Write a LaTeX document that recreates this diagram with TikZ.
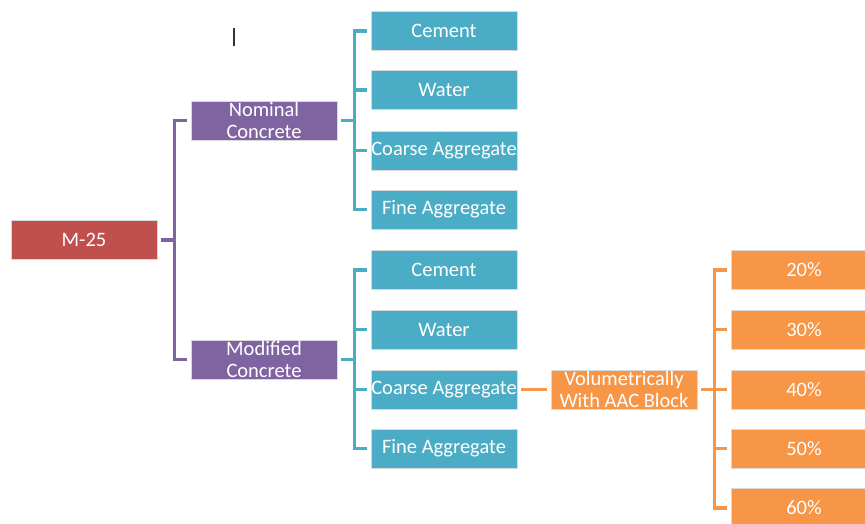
\documentclass[tikz,border=0pt]{standalone}
\usepackage{fontspec}
\setmainfont{Carlito}
\definecolor{cred}{HTML}{C0504D}
\definecolor{cpur}{HTML}{8064A2}
\definecolor{cteal}{HTML}{4BACC6}
\definecolor{corg}{HTML}{F79646}
\begin{document}
\begin{tikzpicture}[x=1pt,y=-1pt,
  box/.style={minimum width=146pt,minimum height=39pt,inner sep=0pt,draw=white!85!black,line width=0.6pt,text=white,align=center,font=\fontsize{20.5}{21.5}\selectfont},
  redbox/.style={box,fill=cred},
  purbox/.style={box,fill=cpur},
  tealbox/.style={box,fill=cteal},
  orgbox/.style={box,fill=corg},
  conn/.style={line width=3.2pt,shorten <=4pt,shorten >=4pt}
]
\clip (0,0) rectangle (865,523);
\fill[white] (0,0) rectangle (865,523);
\node[redbox] (m25) at (84,240) {M-25};
\node[purbox] (nom) at (264,120.5) {Nominal\\Concrete};
\node[purbox] (mod) at (264,359.5) {Modified\\Concrete};
\node[tealbox] (c1) at (444,31) {Cement};
\node[tealbox] (w1) at (444,90) {Water};
\node[tealbox] (ca1) at (444,150.5) {Coarse Aggregate};
\node[tealbox] (f1) at (444,209.5) {Fine Aggregate};
\node[tealbox] (c2) at (444,270) {Cement};
\node[tealbox] (w2) at (444,329.5) {Water};
\node[tealbox] (ca2) at (444,389.5) {Coarse Aggregate};
\node[tealbox] (f2) at (444,448.5) {Fine Aggregate};
\node[orgbox] (vol) at (624,389.5) {Volumetrically\\With AAC Block};
\node[orgbox] (p20) at (804,270) {20\%};
\node[orgbox] (p30) at (804,329.5) {30\%};
\node[orgbox] (p40) at (804,389.5) {40\%};
\node[orgbox] (p50) at (804,448.5) {50\%};
\node[orgbox] (p60) at (804,508) {60\%};
% purple connectors
\foreach \t in {nom,mod}
  \draw[conn,cpur] (m25.east) -- ++(17,0) |- (\t.west);
% teal connectors
\foreach \t in {c1,w1,ca1,f1}
  \draw[conn,cteal] (nom.east) -- ++(17,0) |- (\t.west);
\foreach \t in {c2,w2,ca2,f2}
  \draw[conn,cteal] (mod.east) -- ++(17,0) |- (\t.west);
% orange connectors
\draw[conn,corg] (ca2.east) -- (vol.west);
\foreach \t in {p20,p30,p40,p50,p60}
  \draw[conn,corg] (vol.east) -- ++(17,0) |- (\t.west);
% stray mark
\draw[line width=1.5pt,black!80] (234,28) -- (234,46);
\end{tikzpicture}
\end{document}
